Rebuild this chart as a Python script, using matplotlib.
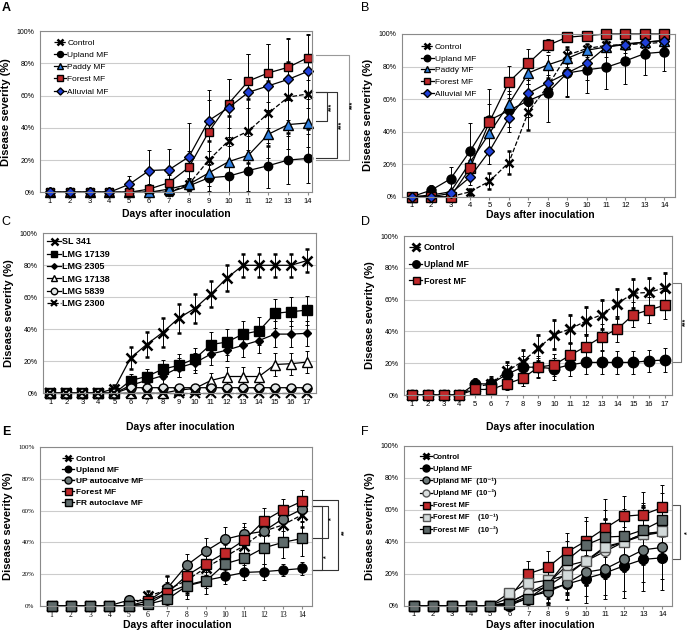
import matplotlib
matplotlib.use('Agg')
import matplotlib.pyplot as plt
from matplotlib.ticker import FuncFormatter

plt.rcParams['font.family'] = ['Liberation Sans', 'DejaVu Sans']

days14 = list(range(1, 15))
days17 = list(range(1, 18))

# panel A
a_control = [0, 0, 0, 0, 0, 0, 0, 5, 20, 32, 38, 49, 59, 61]
a_control_sd = [0, 0, 0, 0, 0, 0, 0, 3, 12, 15, 20, 20, 22, 22]
a_upland = [0, 0, 0, 0, 0, 0, 0, 4, 9, 10, 13.5, 16.5, 20, 21]
a_upland_sd = [0, 0, 0, 0, 0, 0, 0, 3, 8, 10, 13, 14, 15, 15]
a_paddy = [0, 0, 0, 0, 0, 0, 2, 5, 12, 19, 23, 36, 42, 43]
a_paddy_sd = [0, 0, 0, 0, 0, 0, 2, 4, 8, 10, 12, 15, 15, 15]
a_forest = [0, 0, 0, 0, 0, 2, 6, 15.5, 37.5, 55, 69, 74, 77.5, 83.5]
a_forest_sd = [0, 0, 0, 0, 0, 3, 5, 10, 20, 15, 17, 18, 18, 14]
a_alluvial = [0, 0, 0, 0, 5, 13.5, 14, 22, 44.5, 52.5, 62, 66, 70, 75]
a_alluvial_sd = [0, 0, 0, 0, 5, 13, 13, 21, 19, 18, 24, 26, 25, 23]

# panel B
b_control = [0, 0, 0, 3, 9.5, 21, 52, 68, 87, 91, 93, 93.5, 94, 95]
b_control_sd = [0, 0, 0, 2, 5, 7, 11, 5, 5, 3, 3, 3, 3, 3]
b_upland = [0, 4, 11, 28, 47, 53, 59, 64, 76, 78, 79.5, 83.5, 88, 89]
b_upland_sd = [0, 3, 7, 17, 10, 10, 10, 18, 14, 14, 13.5, 14, 13, 12]
b_paddy = [0, 1, 3, 21, 39, 57, 76, 81, 85, 90, 92, 94, 95, 96]
b_paddy_sd = [0, 1, 2, 5, 10, 8, 7, 6, 5, 4, 3, 3, 3, 3]
b_forest = [0, 0, 0, 17.5, 46, 70.5, 82, 93, 98, 99, 100, 100, 100, 100]
b_forest_sd = [0, 0, 0, 5, 20, 10, 9, 4, 2, 1, 0, 0, 0, 0]
b_alluvial = [0, 0, 2, 12, 28, 48.5, 63.5, 70, 76, 82, 92, 93.5, 95, 96]
b_alluvial_sd = [0, 0, 2, 5, 8, 9, 8, 8, 15, 10, 6, 5, 4, 4]

# panel C
c_sl341 = [0, 0, 0, 0, 3, 22, 30.5, 38, 47, 53, 62, 72, 80, 80, 80, 80, 83]
c_sl341_sd = [0, 0, 0, 0, 2, 7, 8, 9, 9, 9, 8, 8, 7, 7, 7, 7, 7]
c_lmg17139 = [0, 0, 0, 0, 0, 8, 10.5, 15, 17.5, 21.5, 30.5, 32, 37, 39, 50, 51, 52]
c_lmg17139_sd = [0, 0, 0, 0, 0, 4, 5, 6, 7, 7, 8, 8, 8, 9, 9, 9, 9]
c_lmg2305 = [0, 0, 0, 0, 0, 5, 8, 11, 16, 19, 24.5, 27, 30, 33, 37, 37, 37.5]
c_lmg2305_sd = [0, 0, 0, 0, 0, 3, 4, 5, 6, 6, 7, 7, 7, 8, 8, 8, 8]
c_lmg17138 = [0, 0, 0, 0, 0, 0, 0, 0, 2, 3, 8, 10.5, 10.5, 10.5, 18, 18.5, 19.5]
c_lmg17138_sd = [0, 0, 0, 0, 0, 0, 0, 0, 2, 3, 5, 6, 6, 6, 7, 7, 7]
c_lmg5839 = [0, 0, 0, 0, 0, 3.5, 3.5, 3.5, 3.5, 3.5, 3.5, 3.5, 3.5, 3.5, 3.5, 3.5, 3.5]
c_lmg5839_sd = [0, 0, 0, 0, 0, 2, 2, 2, 2, 2, 2, 2, 2, 2, 2, 2, 2]
c_lmg2300 = [0, 0, 0, 0, 0, 0, 0, 0, 0, 0, 0, 0, 0, 0, 0, 0, 0]
c_lmg2300_sd = [0, 0, 0, 0, 0, 0, 0, 0, 0, 0, 0, 0, 0, 0, 0, 0, 0]

# panel D
d_control = [0, 0, 0, 0, 5, 7, 15, 21, 29.5, 38, 41.5, 46.5, 50.5, 57.5, 64, 64.5, 67.5]
d_control_sd = [0, 0, 0, 0, 3, 4, 6, 7, 8, 9, 9, 9, 9, 9, 9, 9, 9]
d_upland = [0, 0, 0, 0, 7, 7, 13, 17.5, 17.5, 16.5, 19, 20.5, 20.5, 20.5, 20.5, 21.5, 22]
d_upland_sd = [0, 0, 0, 0, 4, 5, 6, 7, 7, 7, 7, 7, 7, 7, 7, 7, 7.5]
d_forest = [0, 0, 0, 0, 3.5, 3.5, 7, 10.5, 17.5, 19, 25, 30.5, 36.5, 41.5, 50.5, 53.5, 56.5]
d_forest_sd = [0, 0, 0, 0, 3, 4, 4, 5, 6, 7, 8, 8, 8, 8, 8, 8, 9]

# panel E
e_control = [0, 0, 0, 0, 0, 6, 10, 16, 24, 31, 38, 47, 51, 57.5]
e_control_sd = [0, 0, 0, 0, 0, 3, 9, 8, 8, 8, 8, 8, 8, 8]
e_upland = [0, 0, 0, 0, 0, 1, 8, 13, 16, 18.5, 21, 21.5, 22.5, 23.5]
e_upland_sd = [0, 0, 0, 0, 0, 1, 5, 6, 5, 5, 5, 5, 4, 4]
e_up_auto = [0, 0, 0, 0, 3.5, 3, 11, 25.5, 34.5, 42, 45, 47, 55, 61]
e_up_auto_sd = [0, 0, 0, 0, 2, 2, 8, 7, 8, 8, 7, 8, 8, 8]
e_forest = [0, 0, 0, 0, 0, 3, 8, 19, 26.5, 33.5, 41.5, 53.5, 60.5, 66]
e_forest_sd = [0, 0, 0, 0, 0, 2, 7, 8, 7, 7, 8, 8, 7, 7]
e_fr_auto = [0, 0, 0, 0, 0, 1, 4, 12.5, 15.5, 26.5, 30, 36.5, 40, 42.5]
e_fr_auto_sd = [0, 0, 0, 0, 0, 1, 6, 8, 8, 8, 9, 10, 10, 11]

# panel F
f_control = [0, 0, 0, 0, 0, 2, 8, 12, 20, 28, 36, 40, 44, 46]
f_control_sd = [0, 0, 0, 0, 0, 2, 8, 10, 12, 15, 18, 18, 18, 18]
f_upland = [0, 0, 0, 0, 0, 0, 5, 10, 13.5, 17, 20.5, 25, 29, 30]
f_upland_sd = [0, 0, 0, 0, 0, 0, 5, 8, 10, 15, 16, 20, 20, 20]
f_upland_1 = [0, 0, 0, 0, 0, 1, 6, 8.5, 14, 21, 23, 29, 35, 36.5]
f_upland_1_sd = [0, 0, 0, 0, 0, 1, 5, 8, 10, 15, 16, 20, 20, 20]
f_upland_2 = [0, 0, 0, 0, 0, 2, 8, 14, 25, 28, 34, 40, 45, 46]
f_upland_2_sd = [0, 0, 0, 0, 0, 2, 6, 9, 12, 15, 17, 18, 18, 18]
f_forest = [0, 0, 0, 0, 0, 5, 20, 24, 33.5, 40.5, 48.5, 56, 57, 61.5]
f_forest_sd = [0, 0, 0, 0, 0, 3, 8, 10, 12, 15, 18, 13, 14, 14]
f_forest_1 = [0, 0, 0, 0, 0, 8, 14, 16, 19, 28, 37, 40, 45, 46.5]
f_forest_1_sd = [0, 0, 0, 0, 0, 3, 7, 9, 12, 15, 17, 17, 17, 17]
f_forest_2 = [0, 0, 0, 0, 0, 1, 4.5, 13, 28.5, 38, 43, 43.5, 47.5, 53.5]
f_forest_2_sd = [0, 0, 0, 0, 0, 1, 5, 9, 12, 15, 17, 17, 17, 17]

RED = '#c0282a'
W, H = 690, 635

fig = plt.figure(figsize=(W / 100, H / 100), dpi=100)


def box(l, t, r, b):
    return [l / W, 1 - b / H, (r - l) / W, (b - t) / H]


def ftext(x, y, s, **kw):
    fig.text(x / W, 1 - y / H, s, **kw)


def draw_panel(ax, days, series, xlim, ylabel, legend_pos, legend_bold=False,
               legend_size=6, labelspacing=0.5, tick_family=None):
    handles = []
    labels = []
    for vals, sd, label, style in series:
        st = dict(color='black', lw=0.9, ms=6, mec='black', ls='-')
        st.update(style)
        cont = ax.errorbar(days, vals, yerr=sd, ecolor='black', elinewidth=0.7,
                           capsize=1.3, capthick=0.7, **st)
        cont[0].set_clip_on(False)
        handles.append(cont[0])
        labels.append(label)
    ax.set_xlim(*xlim)
    ax.set_ylim(0, 100)
    ax.set_xticks(days)
    ax.set_yticks(range(0, 101, 20))
    ax.yaxis.set_major_formatter(FuncFormatter(lambda v, p: '%d%%' % v))
    ax.yaxis.grid(True, color='#cccccc', lw=0.8)
    ax.set_axisbelow(True)
    for sp in ax.spines.values():
        sp.set_color('#8a8a8a')
        sp.set_linewidth(0.8)
    ax.tick_params(axis='y', length=0, pad=4, labelsize=5)
    ax.tick_params(axis='x', length=2, pad=2, labelsize=5.5, color='#8a8a8a')
    if tick_family:
        for t in ax.get_xticklabels() + ax.get_yticklabels():
            t.set_family(tick_family)
    ax.set_ylabel(ylabel, fontsize=8, fontweight='bold', labelpad=4)
    # legend markers are drawn smaller than the plotted ones
    ax.legend(handles, labels, loc='upper left', bbox_to_anchor=legend_pos,
              frameon=False, handlelength=1.5, handletextpad=0.15, markerscale=0.72,
              borderaxespad=0, borderpad=0, labelspacing=labelspacing,
              prop={'weight': 'bold' if legend_bold else 'normal', 'size': legend_size})


def bracket(ax, x0, x1, ytop, ybot, text, tx, ty, color='#333333'):
    tr = ax.get_yaxis_transform()
    ax.plot([x0, x1, x1, x0], [ytop, ytop, ybot, ybot], transform=tr,
            color=color, lw=0.8, clip_on=False)
    ax.text(tx, ty, text, transform=tr, rotation=90, ha='center', va='center',
            fontsize=5, fontweight='bold')


X = dict(marker='x', ms=6, mew=1.8, ls='--')

# A
ax = fig.add_axes(box(40, 31, 312, 192.3))
draw_panel(ax, days14, [
    (a_control, a_control_sd, 'Control', X),
    (a_upland, a_upland_sd, 'Upland MF', dict(marker='o', mfc='black')),
    (a_paddy, a_paddy_sd, 'Paddy MF', dict(marker='^', mfc='#2f80e0', ms=6.5)),
    (a_forest, a_forest_sd, 'Forest MF', dict(marker='s', mfc=RED, ms=6)),
    (a_alluvial, a_alluvial_sd, 'Alluvial MF', dict(marker='D', mfc='#1f40d8', ms=5)),
], (0.5, 14.2), 'Disease severity (%)', (0.05, 0.95), labelspacing=0.52)
bracket(ax, 1.015, 1.055, 62, 44, '***', 1.074, 53)
bracket(ax, 1.015, 1.092, 62, 21, '***', 1.11, 41.5)
bracket(ax, 1.015, 1.136, 85, 20, '***', 1.151, 54, color='#999999')
ftext(176, 214, 'Days after inoculation', ha='center', va='center',
      fontsize=7.5, fontweight='bold')
ftext(6, 8, 'A', ha='center', va='center', fontsize=9, fontweight='bold')

# B
ax = fig.add_axes(box(402, 34, 675, 196.7))
draw_panel(ax, days14, [
    (b_control, b_control_sd, 'Control', X),
    (b_upland, b_upland_sd, 'Upland MF', dict(marker='o', mfc='black', ms=6.5)),
    (b_paddy, b_paddy_sd, 'Paddy MF', dict(marker='^', mfc='#2f80e0', ms=6.5)),
    (b_forest, b_forest_sd, 'Forest MF', dict(marker='s', mfc=RED, ms=6.5)),
    (b_alluvial, b_alluvial_sd, 'Alluvial MF', dict(marker='D', mfc='#1f40d8', ms=5.5)),
], (0.5, 14.55), 'Disease serverity (%)', (0.07, 0.945), labelspacing=0.47)
ftext(540, 215, 'Days after inoculation', ha='center', va='center',
      fontsize=7.5, fontweight='bold')
ftext(365, 8, 'B', ha='center', va='center', fontsize=9)

# C
ax = fig.add_axes(box(43, 233.3, 316, 393.3))
draw_panel(ax, days17, [
    (c_sl341, c_sl341_sd, 'SL 341', dict(marker='x', ms=7, mew=1.8)),
    (c_lmg17139, c_lmg17139_sd, 'LMG 17139', dict(marker='s', mfc='black', ms=6.5)),
    (c_lmg2305, c_lmg2305_sd, 'LMG 2305', dict(marker='D', mfc='black', ms=4)),
    (c_lmg17138, c_lmg17138_sd, 'LMG 17138', dict(marker='^', mfc='white', ms=6.5)),
    (c_lmg5839, c_lmg5839_sd, 'LMG 5839', dict(marker='o', mfc='#e2e6e6', ms=6.5)),
    (c_lmg2300, c_lmg2300_sd, 'LMG 2300', dict(marker='x', ms=6.5, mew=1.5, ls='--')),
], (0.55, 17.55), 'Disease severity (%)', (0.015, 0.975), legend_bold=True,
    legend_size=6.5, labelspacing=0.38)
ftext(180, 427, 'Days after inoculation', ha='center', va='center',
      fontsize=7.5, fontweight='bold')
ftext(6, 222, 'C', ha='center', va='center', fontsize=9)

# D
ax = fig.add_axes(box(404, 236, 672, 395))
draw_panel(ax, days17, [
    (d_control, d_control_sd, 'Control', dict(marker='x', ms=7.5, mew=2, ls='--')),
    (d_upland, d_upland_sd, 'Upland MF', dict(marker='o', mfc='black', ms=7.5)),
    (d_forest, d_forest_sd, 'Forest MF', dict(marker='s', mfc=RED, ms=7)),
], (0.5, 17.45), 'Disease severity (%)', (0.02, 0.955), legend_bold=True,
    legend_size=6.3, labelspacing=0.88)
bracket(ax, 1.0, 1.032, 70.6, 21, '***', 1.05, 46, color='#777777')
ftext(540, 427, 'Days after inoculation', ha='center', va='center',
      fontsize=7.5, fontweight='bold')
ftext(365, 222, 'D', ha='center', va='center', fontsize=9)

# E
ax = fig.add_axes(box(40, 447.3, 312, 605.7))
draw_panel(ax, days14, [
    (e_control, e_control_sd, 'Control', dict(marker='x', ms=6.5, mew=1.8, ls='--')),
    (e_upland, e_upland_sd, 'Upland MF', dict(marker='o', mfc='black', ms=6.5)),
    (e_up_auto, e_up_auto_sd, 'UP autocalve MF', dict(marker='o', mfc='#6d7878', ms=7)),
    (e_forest, e_forest_sd, 'Forest MF', dict(marker='s', mfc=RED, ms=7)),
    (e_fr_auto, e_fr_auto_sd, 'FR autoclave MF', dict(marker='s', mfc='#5f6b6b', ms=7)),
], (0.4, 14.5), 'Disease severity (%)', (0.08, 0.95), legend_bold=True,
    labelspacing=0.38, tick_family='Liberation Serif')
bracket(ax, 1.0, 1.037, 63, 22.5, '*', 1.055, 31)
bracket(ax, 1.0, 1.059, 63, 42.7, '*', 1.074, 55)
bracket(ax, 1.0, 1.096, 66.7, 22.5, '**', 1.121, 46.5)
ftext(177, 625, 'Days after inoculation', ha='center', va='center',
      fontsize=7.5, fontweight='bold')
ftext(6, 432, 'E', ha='center', va='center', fontsize=9, fontweight='bold')

# F
ax = fig.add_axes(box(404, 446, 672, 605.7))
draw_panel(ax, days14, [
    (f_control, f_control_sd, 'Control', dict(marker='x', ms=6, mew=2)),
    (f_upland, f_upland_sd, 'Upland MF', dict(marker='o', mfc='black', ms=7)),
    (f_upland_1, f_upland_1_sd, 'Upland MF  (10⁻¹)', dict(marker='o', mfc='#6f7a7a', ms=7)),
    (f_upland_2, f_upland_2_sd, 'Upland MF  (10⁻²)', dict(marker='o', mfc='#d9dddd', mec='#555555', ms=7)),
    (f_forest, f_forest_sd, 'Forest MF', dict(marker='s', mfc=RED, ms=7)),
    (f_forest_1, f_forest_1_sd, 'Forest MF    (10⁻¹)', dict(marker='s', mfc='#d3dada', mec='#555555', ms=7)),
    (f_forest_2, f_forest_2_sd, 'Forest MF    (10⁻²)', dict(marker='s', mfc='#5d6868', ms=7)),
], (0.5, 14.5), 'Disease severity (%)', (0.06, 0.955), legend_bold=True,
    legend_size=5.5, labelspacing=0.62)
bracket(ax, 1.0, 1.03, 63, 29, '*', 1.057, 46, color='#555555')
ftext(540, 625, 'Days after inoculation', ha='center', va='center',
      fontsize=7.5, fontweight='bold')
ftext(365, 432, 'F', ha='center', va='center', fontsize=9)

fig.savefig('out.png', dpi=100)
